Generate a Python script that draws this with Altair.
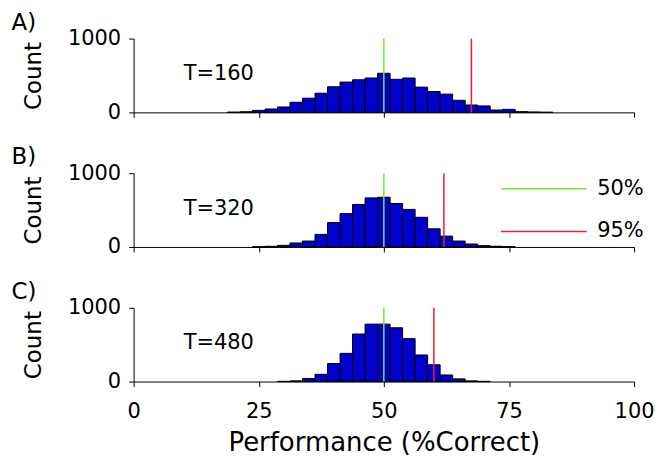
import altair as alt
import pandas as pd

# ---- data ----
centers_a = [20, 22.5, 25, 27.5, 30, 32.5, 35, 37.5, 40, 42.5, 45, 47.5, 50,
             52.5, 55, 57.5, 60, 62.5, 65, 67.5, 70, 72.5, 75, 77.5, 80, 82.5]
counts_a = [3, 8, 27, 46, 73, 137, 192, 260, 347, 411, 442, 466, 530,
            448, 466, 342, 283, 247, 164, 100, 87, 32, 41, 10, 5, 2]

centers_b = [25, 27.5, 30, 32.5, 35, 37.5, 40, 42.5, 45, 47.5, 50,
             52.5, 55, 57.5, 60, 62.5, 65, 67.5, 70, 72.5, 75]
counts_b = [3, 9, 22, 54, 80, 170, 330, 451, 576, 665, 674,
            589, 509, 402, 246, 147, 80, 40, 18, 9, 4]

centers_c = [30, 32.5, 35, 37.5, 40, 42.5, 45, 47.5, 50,
             52.5, 55, 57.5, 60, 62.5, 65, 67.5, 70]
counts_c = [3, 9, 40, 98, 244, 382, 644, 778, 778,
            729, 582, 360, 227, 89, 36, 9, 3]

panel_labels = ["A)", "B)", "C)"]
t_labels = ["T=160", "T=320", "T=480"]
line_names = ["50%", "95%"]
line_50 = [50, 50, 50]
line_95 = [67.5, 62, 60]

x_ticks = [0, 25, 50, 75, 100]
y_ticks = [0, 500, 1000]
BIN_HALF = 1.25

FONT = "DejaVu Sans"
W, H = 502, 74


def panel(i, centers, counts, last):
    df = pd.DataFrame({"c": centers, "n": counts})
    df["x0"] = df["c"] - BIN_HALF
    df["x1"] = df["c"] + BIN_HALF
    xscale = alt.Scale(domain=[0, 100], nice=False, zero=False)
    yscale = alt.Scale(domain=[0, 1000], nice=False)
    if last:
        xaxis = alt.Axis(values=x_ticks, title="Performance (%Correct)",
                         labelFontSize=21, titleFontSize=26, labelPadding=14,
                         titlePadding=8, grid=False, tickSize=5,
                         domainColor="black", tickColor="black",
                         labelColor="black", titleColor="black",
                         titleFontWeight="normal", labelFlush=False)
    else:
        xaxis = alt.Axis(values=x_ticks, labels=False, title=None, grid=False,
                         tickSize=5, domainColor="black", tickColor="black")
    yaxis = alt.Axis(values=y_ticks, format="d", title="Count",
                     labelFontSize=21, titleFontSize=23,
                     titleFontWeight="normal", grid=False,
                     tickSize=5, labelPadding=8, titlePadding=22,
                     domainColor="black", tickColor="black",
                     labelColor="black", titleColor="black", labelFlush=False)
    bars = alt.Chart(df).mark_rect(color="#0000CC", stroke="black",
                                   strokeWidth=1).encode(
        x=alt.X("x0:Q", scale=xscale, axis=xaxis),
        x2="x1:Q",
        y=alt.Y("n:Q", scale=yscale, axis=yaxis),
        y2=alt.datum(0),
    )
    rdf = pd.DataFrame({"x": [line_50[i], line_95[i]], "s": line_names,
                        "y0": [0, 0], "y1": [1000, 1000]})
    rules = alt.Chart(rdf).mark_rule(strokeWidth=1.5).encode(
        x=alt.X("x:Q", scale=xscale),
        y=alt.Y("y0:Q", scale=yscale),
        y2="y1:Q",
        color=alt.Color("s:N",
                        scale=alt.Scale(domain=line_names,
                                        range=["#70EE30", "#EE2222"]),
                        legend=alt.Legend(title=None, orient="none",
                                          legendX=389, legendY=128,
                                          symbolType="M-2,0H2",
                                          symbolSize=1849,
                                          symbolStrokeWidth=1.5,
                                          labelFontSize=21, labelOffset=31,
                                          labelColor="black",
                                          rowPadding=10)),
    )
    tdf = pd.DataFrame({"x": [10], "y": [520], "t": [t_labels[i]]})
    text = alt.Chart(tdf).mark_text(align="left", baseline="middle",
                                    fontSize=21, font=FONT,
                                    color="black").encode(
        x=alt.X("x:Q", scale=xscale),
        y=alt.Y("y:Q", scale=yscale),
        text="t:N",
    )
    return alt.layer(bars, rules, text).properties(
        width=W, height=H,
        title=alt.TitleParams(panel_labels[i], anchor="start", frame="bounds",
                              fontSize=23, fontWeight="normal", color="black",
                              dx=-11, offset=-7),
    )


chart = alt.vconcat(
    panel(0, centers_a, counts_a, False),
    panel(1, centers_b, counts_b, False),
    panel(2, centers_c, counts_c, True),
    spacing=61,
    bounds="flush",
).resolve_scale(color="shared").properties(
    padding={"left": 3, "top": 3, "right": 0, "bottom": 0}
).configure(
    font=FONT
).configure_view(stroke=None)

chart.save("out.html", embed_options={"renderer": "svg", "actions": False})
